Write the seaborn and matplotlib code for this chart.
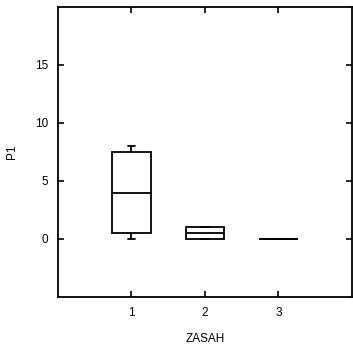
import matplotlib
matplotlib.use("Agg")
import matplotlib.pyplot as plt
import seaborn as sns
import pandas as pd

groups = [1, 1, 1, 1, 1, 2, 2, 2, 2, 2, 3, 3, 3, 3, 3]
p1_values = [0, 0.5, 4, 7.5, 8,
             0, 0, 0.5, 1, 1,
             0, 0, 0, 0, 0]
xticks = [1, 2, 3]
yticks = [0, 5, 10, 15]

df = pd.DataFrame({"ZASAH": groups, "P1": p1_values})

sns.set_style("white")
plt.rcParams['font.family'] = ['Liberation Sans', 'DejaVu Sans']
plt.rcParams['text.color'] = 'black'
plt.rcParams['axes.labelcolor'] = 'black'

fig = plt.figure(figsize=(3.53, 3.49), dpi=100)
ax = fig.add_axes([0.164, 0.149, 0.833, 0.831])

sns.boxplot(data=df, x="ZASAH", y="P1", native_scale=True, width=0.52,
            color="white", linecolor="black", linewidth=1.3, fliersize=0,
            whis=1.5, capwidths=0.1, ax=ax)

ax.set_xlim(0, 4)
ax.set_ylim(-5, 20)
ax.set_xticks(xticks)
ax.set_yticks(yticks)
ax.set_xticklabels([str(v) for v in xticks], fontsize=8.5, color="black")
ax.set_yticklabels([str(v) for v in yticks], fontsize=8.5, color="black")
ax.tick_params(direction="in", length=4, width=1.2, top=True, right=True,
               bottom=True, left=True, colors="black", pad=7)
for s in ax.spines.values():
    s.set_color("black")
    s.set_linewidth(1.3)
ax.set_xlabel("ZASAH", fontsize=8.5, labelpad=10, color="black")
ax.set_ylabel("P1", fontsize=8.5, labelpad=12, color="black")

fig.savefig("out.png", dpi=100)
